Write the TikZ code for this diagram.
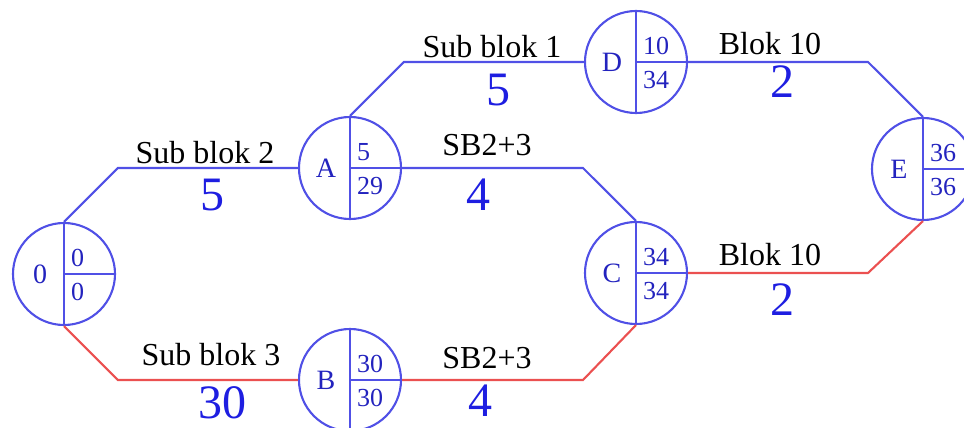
\documentclass[tikz,border=0pt]{standalone}
\usepackage{fontspec}
\setmainfont{Liberation Serif}
\definecolor{lblue}{RGB}{80,80,230}
\definecolor{tblue}{RGB}{35,35,190}
\definecolor{nblue}{RGB}{30,30,225}
\definecolor{lred}{RGB}{235,80,80}
\tikzset{
  evt/.style={circle,draw=lblue,line width=2.1pt,minimum size=102pt,inner sep=0pt},
  bline/.style={draw=lblue,line width=2.1pt},
  rline/.style={draw=lred,line width=2.1pt},
  evname/.style={text=tblue,font=\fontsize{28}{30}\selectfont,inner sep=0pt},
  evnum/.style={text=tblue,font=\fontsize{26}{28}\selectfont,inner sep=0pt,anchor=west},
  lbl/.style={text=black,font=\fontsize{32}{36}\selectfont,inner sep=0pt,anchor=base},
  big/.style={text=nblue,font=\fontsize{48}{52}\selectfont,inner sep=0pt,anchor=base}
}
\begin{document}
\begin{tikzpicture}[x=1pt,y=-1pt]
\useasboundingbox (0,0) rectangle (964,428);
% events
\foreach \n/\x/\y/\t/\a/\b in {n0/64/274/0/0/0, A/350/168/A/5/29, B/350/380/B/30/30, D/636/62/D/10/34, C/636/273/C/34/34, E/923/169/E/36/36}{
  \node[evt] (\n) at (\x,\y) {};
  \draw[bline] (\n.north) -- (\n.south);
  \draw[bline] (\n.center) -- (\n.east);
  \node[evname] (\n-name) at (\x-24,\y) {\t};
  \node[evnum] (\n-es) at (\x+7,\y-16) {\a};
  \node[evnum] (\n-ls) at (\x+7,\y+18) {\b};
}
% connectors
\coordinate (k0a) at ([xshift=-180pt]A.west);
\coordinate (k0b) at ([xshift=-180pt]B.west);
\coordinate (kad) at ([xshift=-180pt]D.west);
\coordinate (kac) at ([xshift=-53pt]C.north);
\coordinate (kbc) at ([xshift=-53pt]C.south);
\coordinate (kde) at ([xshift=-55pt]E.north);
\coordinate (kce) at ([xshift=-55pt]E.south);
\draw[bline] (n0.north) -- (k0a) -- (A.west);
\draw[rline] (n0.south) -- (k0b) -- (B.west);
\draw[bline] (A.north) -- (kad) -- (D.west);
\draw[bline] (A.east) -- (A.east -| kac) -- (C.north);
\draw[rline] (B.east) -- (B.east -| kbc) -- (C.south);
\draw[bline] (D.east) -- (D.east -| kde) -- (E.north);
\draw[rline] (C.east) -- (C.east -| kce) -- (E.south);
% labels
\node[lbl] (l1) at (205,163) {Sub blok 2};
\node[big] (v1) at (212,210) {5};
\node[lbl] (l2) at (492,58) {Sub blok 1};
\node[big] (v2) at (498,105) {5};
\node[lbl] (l3) at (770,55) {Blok 10};
\node[big] (v3) at (782,98) {2};
\node[lbl] (l4) at (487,155) {SB2+3};
\node[big] (v4) at (478,210) {4};
\node[lbl] (l5) at (211,365) {Sub blok 3};
\node[big] (v5) at (222,418) {30};
\node[lbl] (l6) at (770,265) {Blok 10};
\node[big] (v6) at (782,315) {2};
\node[lbl] (l7) at (487,368) {SB2+3};
\node[big] (v7) at (480,416) {4};
\end{tikzpicture}
\end{document}
